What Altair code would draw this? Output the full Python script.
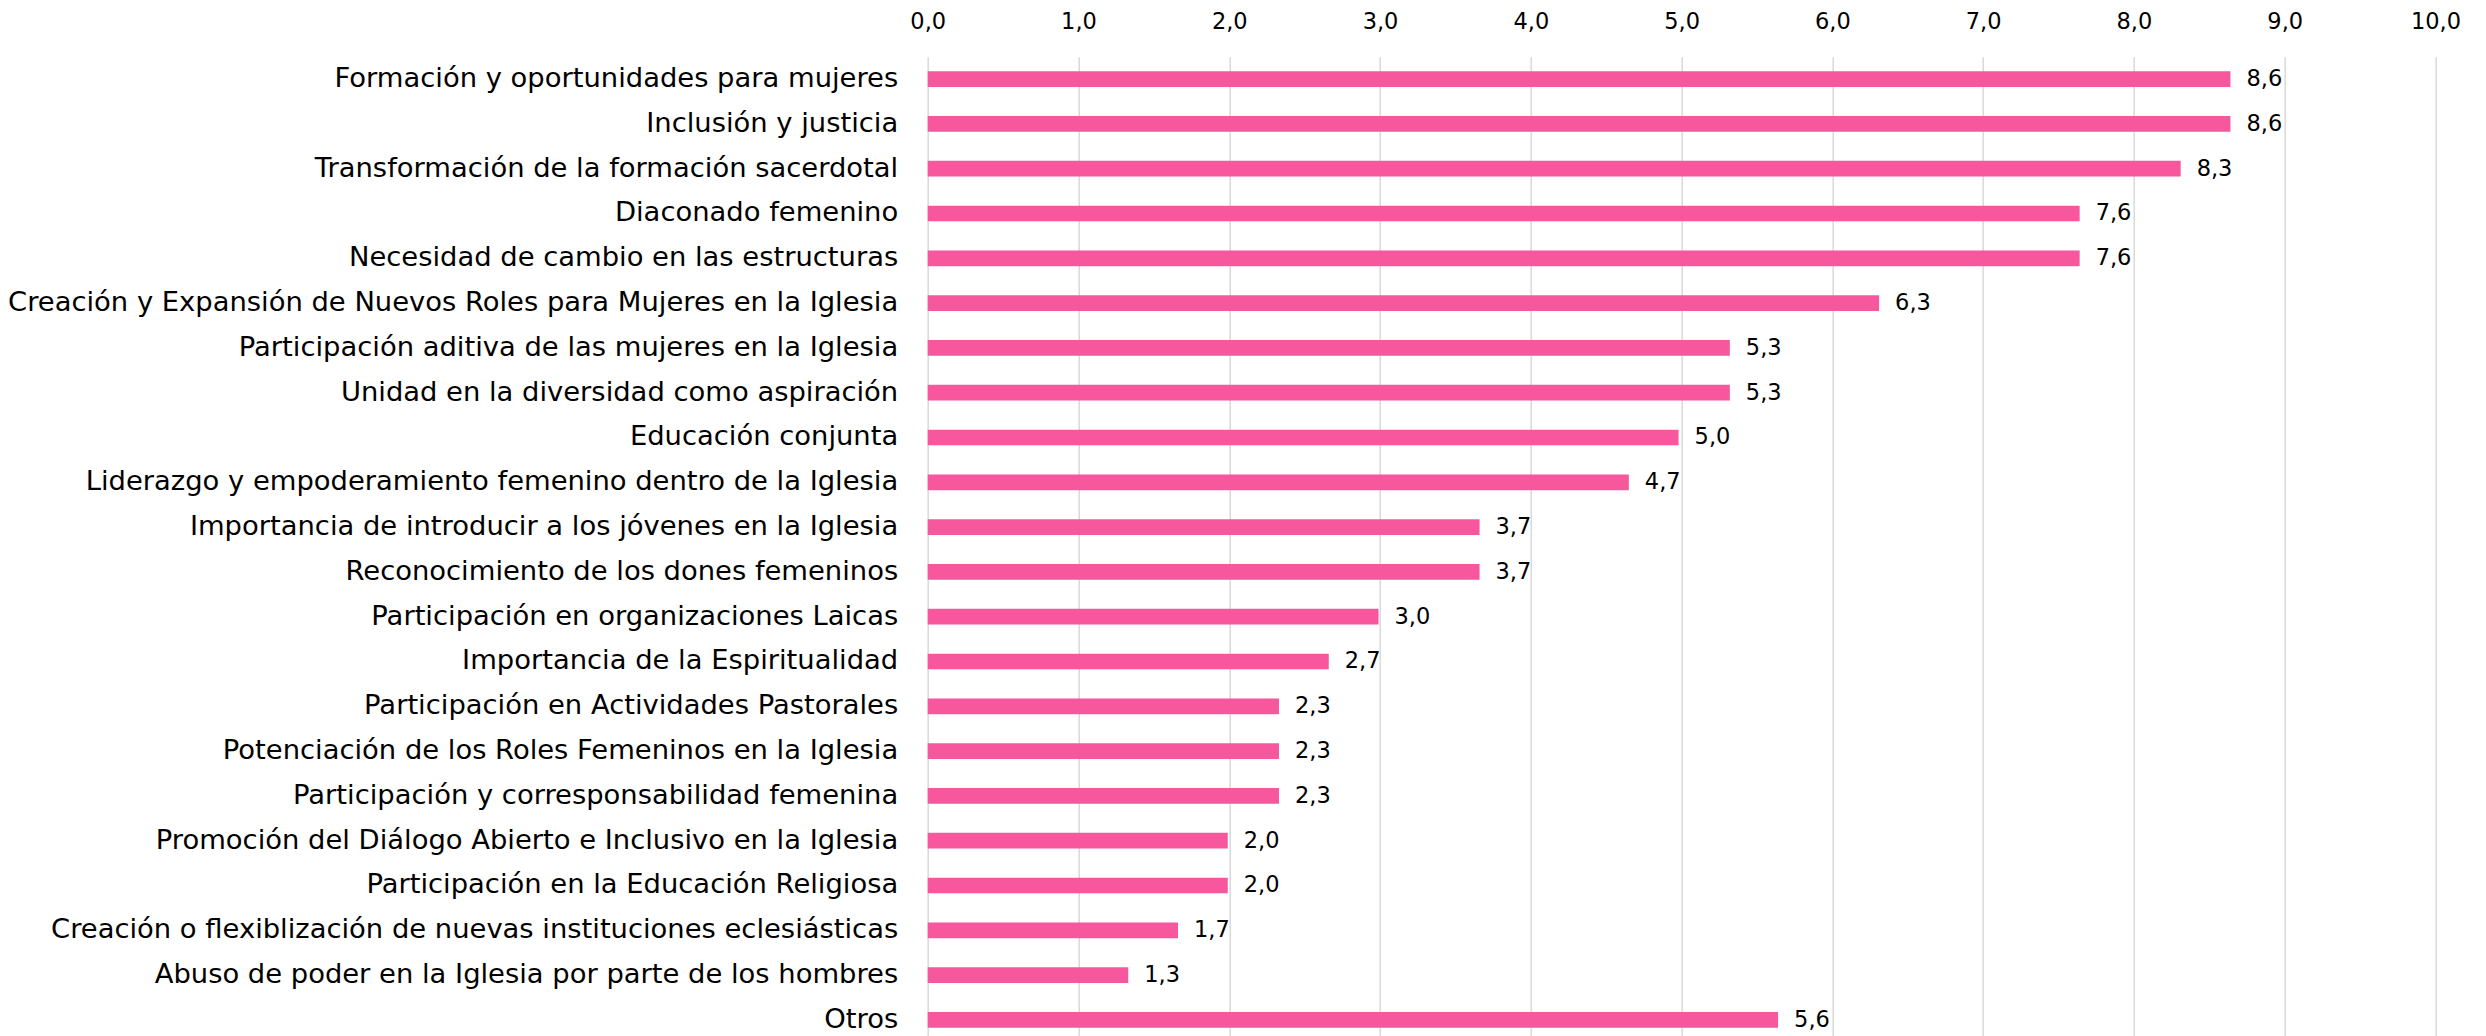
import altair as alt
import pandas as pd

temas = [
    "Formación y oportunidades para mujeres",
    "Inclusión y justicia",
    "Transformación de la formación sacerdotal",
    "Diaconado femenino",
    "Necesidad de cambio en las estructuras",
    "Creación y Expansión de Nuevos Roles para Mujeres en la Iglesia",
    "Participación aditiva de las mujeres en la Iglesia",
    "Unidad en la diversidad como aspiración",
    "Educación conjunta",
    "Liderazgo y empoderamiento femenino dentro de la Iglesia",
    "Importancia de introducir a los jóvenes en la Iglesia",
    "Reconocimiento de los dones femeninos",
    "Participación en organizaciones Laicas",
    "Importancia de la Espiritualidad",
    "Participación en Actividades Pastorales",
    "Potenciación de los Roles Femeninos en la Iglesia",
    "Participación y corresponsabilidad femenina",
    "Promoción del Diálogo Abierto e Inclusivo en la Iglesia",
    "Participación en la Educación Religiosa",
    "Creación o flexiblización de nuevas instituciones eclesiásticas",
    "Abuso de poder en la Iglesia por parte de los hombres",
    "Otros\u00a0",
]
valores = [8.64, 8.64, 8.31, 7.64, 7.64, 6.31, 5.32, 5.32, 4.98, 4.65, 3.66, 3.66,
           2.99, 2.66, 2.33, 2.33, 2.33, 1.99, 1.99, 1.66, 1.33, 5.64]
marcas_x = [0, 1, 2, 3, 4, 5, 6, 7, 8, 9, 10]

FONT = "DejaVu Sans"
PINK = "#F6579D"
TXT = "#000000"

df = pd.DataFrame({"tema": temas, "valor": valores})

base = alt.Chart(df).transform_calculate(
    etiqueta="replace(format(datum.valor, '.1f'), '.', ',')"
).encode(
    y=alt.Y(
        "tema:N",
        sort=temas,
        scale=alt.Scale(range=[0, 985.6], paddingInner=0.65, paddingOuter=0.325),
        axis=alt.Axis(title=None, ticks=False, domain=False, grid=False,
                      labelPadding=30, labelLimit=2000, labelFont=FONT,
                      labelFontSize=27.4, labelColor=TXT),
    ),
    x=alt.X(
        "valor:Q",
        scale=alt.Scale(domain=[0, 10], nice=False, zero=True),
        axis=alt.Axis(orient="top", values=marcas_x, title=None, ticks=False,
                      domain=False, labelPadding=23, labelFont=FONT,
                      labelFontSize=22.5, labelColor=TXT, labelFlush=False,
                      labelExpr="replace(format(datum.value, '.1f'), '.', ',')",
                      grid=True, gridColor="#d9d9d9", gridWidth=1.5),
    ),
)

bars = base.mark_bar(color=PINK)
text = base.mark_text(align="left", dx=16, font=FONT, fontSize=22.5, color=TXT).encode(
    text="etiqueta:N"
)

chart = alt.layer(bars, text).properties(
    width=1507.8,
    height=979,
    autosize=alt.AutoSizeParams(type="none"),
    padding={"left": 919.7, "top": 48.7, "right": 40, "bottom": 0},
    background="white",
).configure_view(stroke=None)

chart.save("out.html", embed_options={"renderer": "svg", "actions": False})
